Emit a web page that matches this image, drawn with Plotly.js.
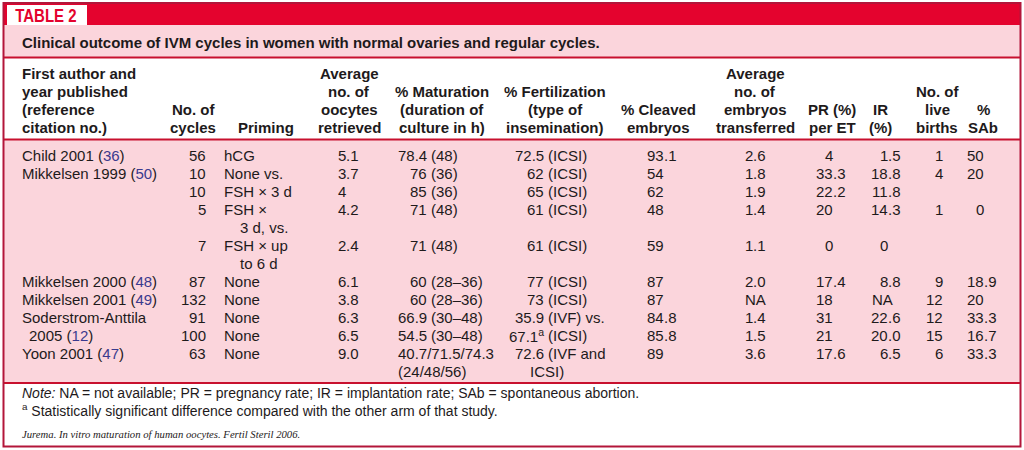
<!DOCTYPE html>
<html><head><meta charset="utf-8">
<script src="https://cdn.plot.ly/plotly-3.0.1.min.js"></script>
<style>html,body{margin:0;padding:0;background:#fff;}#chart{width:1024px;height:450px;}</style>
</head><body><div id="chart"></div>
<script>
// ---------- DATA ----------
const tableLabel = "TABLE 2";
const caption = "Clinical outcome of IVM cycles in women with normal ovaries and regular cycles.";
const headers = [
  "First author and\nyear published\n(reference\ncitation no.)",
  "No. of\ncycles",
  "Priming",
  "Average\nno. of\noocytes\nretrieved",
  "% Maturation\n(duration of\nculture in h)",
  "% Fertilization\n(type of\ninsemination)",
  "% Cleaved\nembryos",
  "Average\nno. of\nembryos\ntransferred",
  "PR (%)\nper ET",
  "IR\n(%)",
  "No. of\nlive\nbirths",
  "%\nSAb"
];
const authors = ["Child 2001 (36)", "Mikkelsen 1999 (50)", "", "", "", "Mikkelsen 2000 (48)", "Mikkelsen 2001 (49)", "Soderstrom-Anttila\n2005 (12)", "", "Yoon 2001 (47)"];
const cycles = ["56", "10", "10", "5", "7", "87", "132", "91", "100", "63"];
const priming = ["hCG", "None vs.", "FSH \u00d7 3 d", "FSH \u00d7\n3 d, vs.", "FSH \u00d7 up\nto 6 d", "None", "None", "None", "None", "None"];
const oocytes = ["5.1", "3.7", "4", "4.2", "2.4", "6.1", "3.8", "6.3", "6.5", "9.0"];
const maturation = ["78.4 (48)", "76 (36)", "85 (36)", "71 (48)", "71 (48)", "60 (28\u201336)", "60 (28\u201336)", "66.9 (30\u201348)", "54.5 (30\u201348)", "40.7/71.5/74.3\n(24/48/56)"];
const fertilization = ["72.5 (ICSI)", "62 (ICSI)", "65 (ICSI)", "61 (ICSI)", "61 (ICSI)", "77 (ICSI)", "73 (ICSI)", "35.9 (IVF) vs.", "67.1<sup>a</sup> (ICSI)", "72.6 (IVF and\nICSI)"];
const cleaved = ["93.1", "54", "62", "48", "59", "87", "87", "84.8", "85.8", "89"];
const embryos = ["2.6", "1.8", "1.9", "1.4", "1.1", "2.0", "NA", "1.4", "1.5", "3.6"];
const prPerET = ["4", "33.3", "22.2", "20", "0", "17.4", "18", "31", "21", "17.6"];
const irPct = ["1.5", "18.8", "11.8", "14.3", "0", "8.8", "NA", "22.6", "20.0", "6.5"];
const liveBirths = ["1", "4", "", "1", "", "9", "12", "12", "15", "6"];
const sabPct = ["50", "20", "", "0", "", "18.9", "20", "33.3", "16.7", "33.3"];
const noteLines = [
  "<i>Note:</i> NA = not available; PR = pregnancy rate; IR = implantation rate; SAb = spontaneous abortion.",
  "<sup>a</sup> Statistically significant difference compared with the other arm of that study."
];
const sourceLine = "Jurema. In vitro maturation of human oocytes. Fertil Steril 2006.";

// ---------- STYLE / LAYOUT ----------
const RED = "#e4032e", PINK = "#fbd5dc", LINE = "#c8102e", FRAME = "#b3163a", TXT = "#1e1a1b", REF = "#3a3a8e";
const FONT = "Liberation Sans, Arial, Helvetica, sans-serif";
const cols = [
  {data: authors, mode: "left", x: 22, cont: 29, hx: 22, ha: "left"},
  {data: cycles, mode: "right", x: 206, hx: 193, ha: "center"},
  {data: priming, mode: "left", x: 224, cont: 240, hx: 266, ha: "center"},
  {data: oocytes, mode: "dec", x: 346, left: 338, hx: 349, ha: "center"},
  {data: maturation, mode: "paren", x: 431, left: 398, cont: 398, hx: 442, ha: "center"},
  {data: fertilization, mode: "paren", x: 548, left: 515, cont: 530, hx: 555, ha: "center"},
  {data: cleaved, mode: "dec", x: 664, left: 648, hx: 658, ha: "center"},
  {data: embryos, mode: "dec", x: 753, left: 745, hx: 755, ha: "center"},
  {data: prPerET, mode: "dec", x: 833, left: 817, hx: 832, ha: "center"},
  {data: irPct, mode: "dec", x: 888, left: 872, hx: 880, ha: "center"},
  {data: liveBirths, mode: "right", x: 943, hx: 937, ha: "center"},
  {data: sabPct, mode: "dec", x: 984, left: 967, hx: 983, ha: "center"}
];
const BODY_Y0 = 155, LH = 18, HEAD_BOTTOM = 127;

const ann = [];
function add(text, x, y, anchor, opts) {
  ann.push(Object.assign({
    text: text, x: x, y: y, xref: "x", yref: "y", xanchor: anchor, yanchor: "middle",
    showarrow: false, borderpad: 0, borderwidth: 0,
    font: {family: FONT, size: 15, color: TXT}
  }, opts || {}));
  return ann.length - 1;
}
function refColor(s) {
  return s.replace(/\((\d+)\)/g, "(<span style='color:" + REF + "'>$1</span>)");
}

// row start lines (authors column excluded: its continuation lines fall into next row)
const nRows = cycles.length;
const rowLine = [];
let acc = 0;
for (let r = 0; r < nRows; r++) {
  rowLine.push(acc);
  let m = 1;
  cols.slice(1).forEach(c => { m = Math.max(m, String(c.data[r]).split("\n").length); });
  acc += m;
}

// headers
cols.forEach((c, i) => {
  const lines = headers[i].split("\n");
  lines.forEach((ln, k) => {
    const y = HEAD_BOTTOM - (lines.length - 1 - k) * LH;
    add("<b>" + ln + "</b>", c.hx, y, c.ha);
  });
});

// body
cols.forEach((c) => {
  c.data.forEach((val, r) => {
    if (val === "" || val == null) return;
    const lines = String(val).split("\n");
    lines.forEach((ln, k) => {
      const y = BODY_Y0 + (rowLine[r] + k) * LH;
      if (k > 0) { add(refColor(ln), c.cont, y, "left"); return; }
      if (c.mode === "left") add(refColor(ln), c.x, y, "left");
      else if (c.mode === "right") add(ln, c.x, y, "right");
      else if (c.mode === "dec") {
        if (/^\d+(\.\d+)?$/.test(ln)) {
          const p = ln.split(".");
          add(p[0], c.x, y, "right");
          if (p.length > 1) add("." + p[1], c.x, y, "left");
        } else add(ln, c.left, y, "left");
      } else if (c.mode === "paren") {
        const idx = ln.indexOf(" (");
        if (idx >= 0) {
          add(ln.slice(0, idx), c.x - 4, y, "right");
          add(ln.slice(idx + 1), c.x, y, "left");
        } else add(ln, c.left, y, "left");
      }
    });
  });
});

// title pieces
const LABEL_X = 46;
const labelIdx = add("<b>" + tableLabel + "</b>", LABEL_X, 15, "center", {font: {family: FONT, size: 19, color: RED}});
add("<b>" + caption + "</b>", 22, 42, "left");
// footer
add(noteLines[0], 22, 393, "left", {font: {family: FONT, size: 14, color: TXT}});
add(noteLines[1], 22, 410, "left", {font: {family: FONT, size: 14, color: TXT}});
add("<i>" + sourceLine + "</i>", 22, 434, "left", {font: {family: "Liberation Serif, Times New Roman, serif", size: 10.7, color: TXT}});

const shapes = [
  {type: "rect", x0: 3, x1: 1020, y0: 3, y1: 25, fillcolor: RED, line: {width: 0}},
  {type: "rect", x0: 7, x1: 87, y0: 5, y1: 25, fillcolor: "#ffffff", line: {width: 0}},
  {type: "rect", x0: 3, x1: 1020, y0: 25, y1: 57, fillcolor: PINK, line: {width: 0}},
  {type: "rect", x0: 3, x1: 1020, y0: 140, y1: 383, fillcolor: PINK, line: {width: 0}},
  {type: "line", x0: 3, x1: 1020, y0: 57.5, y1: 57.5, line: {color: LINE, width: 2}},
  {type: "line", x0: 3, x1: 1020, y0: 139.5, y1: 139.5, line: {color: LINE, width: 2}},
  {type: "line", x0: 3, x1: 1020, y0: 383, y1: 383, line: {color: LINE, width: 2}},
  {type: "rect", x0: 3.5, x1: 1020.5, y0: 3, y1: 446.5, fillcolor: "rgba(0,0,0,0)", line: {color: FRAME, width: 2}}
];
shapes.forEach(s => { s.xref = "x"; s.yref = "y"; s.layer = "below"; });

const layout = {
  width: 1024, height: 450,
  margin: {l: 0, r: 0, t: 0, b: 0, pad: 0},
  paper_bgcolor: "#ffffff", plot_bgcolor: "#ffffff",
  xaxis: {range: [0, 1024], visible: false, fixedrange: true},
  yaxis: {range: [450, 0], visible: false, fixedrange: true},
  showlegend: false,
  shapes: shapes,
  annotations: ann
};
Plotly.newPlot("chart", [], layout, {staticPlot: true, displayModeBar: false}).then(gd => {
  // condense the "TABLE 2" label horizontally, like the reference's condensed face
  const t = gd.querySelector('.annotation[data-index="' + labelIdx + '"] text');
  if (t) {
    const bb = t.getBBox();
    const cx = bb.x + bb.width / 2;
    t.setAttribute("transform", "translate(" + cx + ",0) scale(0.79,1) translate(" + (-cx) + ",0)");
  }
});
</script>
</body></html>
